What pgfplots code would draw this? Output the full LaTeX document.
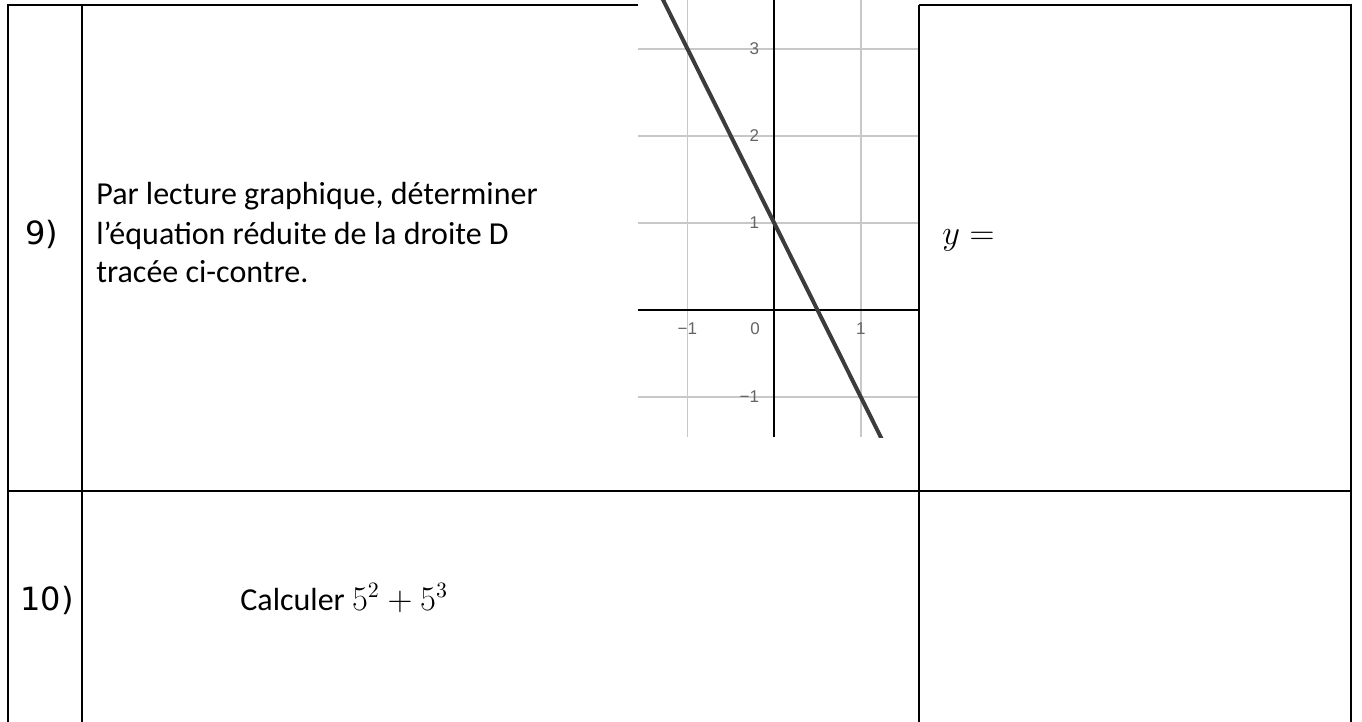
\documentclass[border=0pt]{standalone}
\usepackage{fontspec}
\setmainfont{Carlito}
\newfontfamily\verd{DejaVu Sans}
\newfontfamily\geo{Liberation Sans}
\usepackage{pgfplots}
\pgfplotsset{compat=1.18}
\definecolor{gridgray}{RGB}{200,200,200}
\definecolor{linegray}{RGB}{60,60,60}
\definecolor{labgray}{RGB}{100,100,100}

\begin{document}
\begin{tikzpicture}[x=0.5pt,y=-0.5pt]
\useasboundingbox (0,0) rectangle (1362,722);

% table rules
\draw[line width=1pt] (8,722) -- (8,5) -- (638,5);
\draw[line width=1pt] (919,5) -- (1351,5) -- (1351,722);
\draw[line width=1pt] (82,5) -- (82,722);
\draw[line width=1pt] (919,5) -- (919,722);
\draw[line width=1pt] (8,491) -- (1351,491);

% row 9
\node[anchor=base west, inner sep=0, font=\verd\fontsize{16}{16}\selectfont] at (25,245) {9)};
\begin{scope}[every node/.style={anchor=base west, inner sep=0, font=\fontsize{16}{16}\selectfont}]
\node at (96,205) {Par lecture graphique, déterminer};
\node at (96,244) {l’équation réduite de la droite D};
\node at (96,283) {tracée ci-contre.};
\node at (942,245) {$y =$};
\end{scope}

% row 10
\node[anchor=base west, inner sep=0, font=\verd\fontsize{16}{16}\selectfont] at (20,610) {10)};
\node[anchor=base west, inner sep=0, font=\fontsize{16}{16}\selectfont] at (240,610) {Calculer $5^2 + 5^3$};

% graph of D
\begin{axis}[
    at={(319pt,-218.5pt)}, anchor=south west,
    scale only axis, width=140pt, height=218.5pt,
    xmin=-1.57, xmax=1.66, ymin=-1.46, ymax=3.56,
    axis lines=middle,
    axis line style={black, line width=0.75pt, -},
    grid=major,
    grid style={gridgray, line width=0.9pt},
    major tick length=0pt,
    xtick={-1,1}, xticklabels={−1,1},
    ytick={-1,1,2,3}, yticklabels={−1,1,2,3},
    tick label style={font=\geo\fontsize{8.5}{8.5}\selectfont, text=labgray},
    x tick label style={anchor=north, yshift=-3pt},
    y tick label style={anchor=east, xshift=-4pt},
]
    \addplot[linegray, line width=2pt] coordinates {(-1.4,3.8) (1.3,-1.6)};
    \node[anchor=north east, inner sep=0, font=\geo\fontsize{8.5}{8.5}\selectfont, text=labgray]
        at (axis cs:-0.16,-0.14) {0};
\end{axis}
\end{tikzpicture}
\end{document}
